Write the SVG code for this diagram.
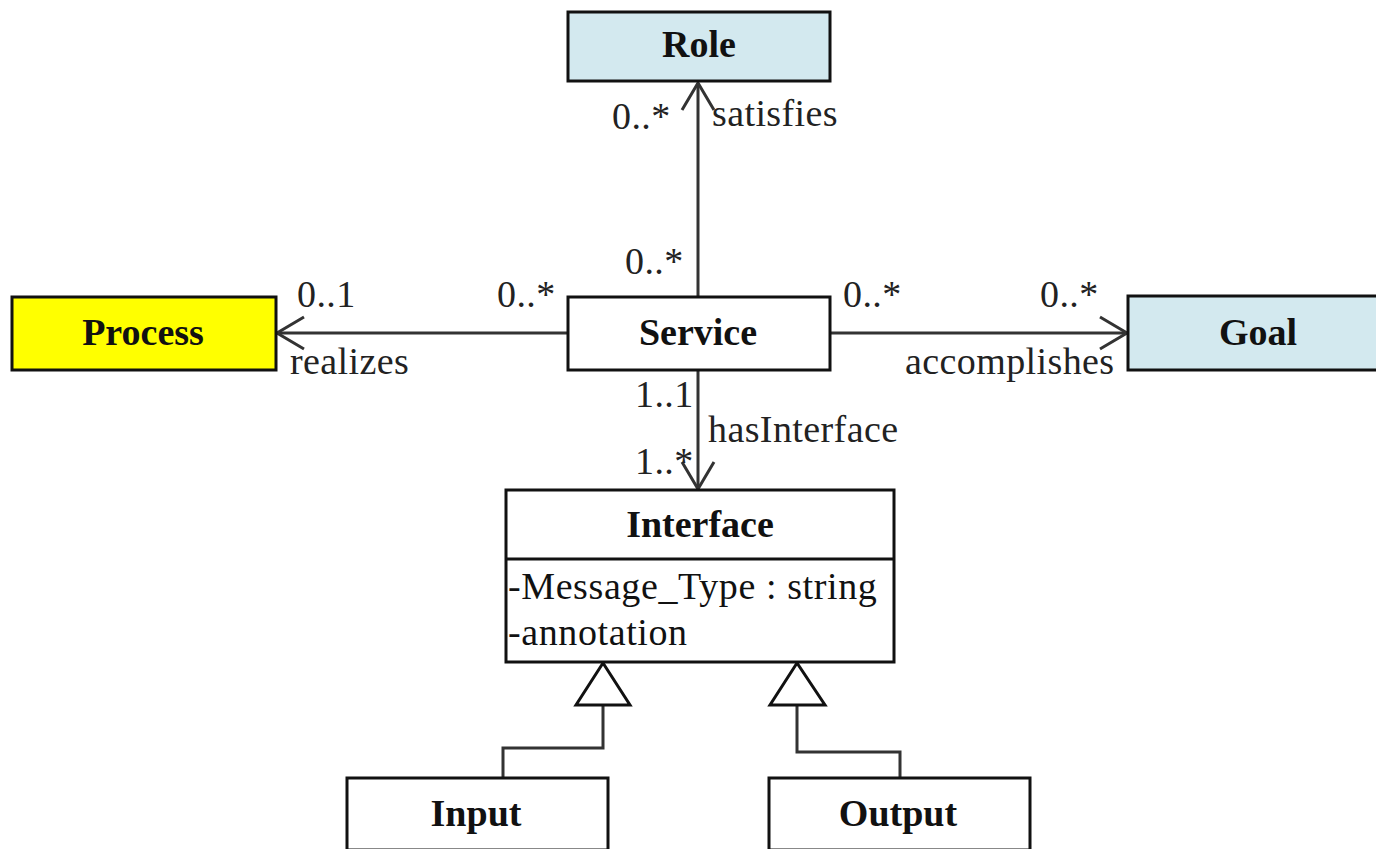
<svg xmlns="http://www.w3.org/2000/svg" width="1376" height="849" viewBox="0 0 1376 849">
<style>
.box{stroke:#111;stroke-width:3}
.plain{fill:#fff}
.blue{fill:#d3e9ef}
.yellow{fill:#ffff00}
.title{font-family:"Liberation Serif",serif;font-weight:bold;font-size:38px;fill:#111;text-anchor:middle}
.lbl{font-family:"Liberation Serif",serif;font-size:38px;fill:#222;letter-spacing:0.4px}
.attr{font-family:"Liberation Serif",serif;font-size:38px;fill:#111;letter-spacing:0.6px}
.conn{stroke:#333;stroke-width:3;fill:none}
.gen{stroke:#111;stroke-width:3;fill:#fff}
</style>
<defs>
<marker id="open" markerUnits="userSpaceOnUse" markerWidth="40" markerHeight="40" viewBox="-32 -20 36 40" refX="0" refY="0" orient="auto">
<path d="M -27 -16 L 0 0 L -27 16" fill="none" stroke="#333" stroke-width="3"/>
</marker>
</defs>
<g id="connectors">
<line class="conn" x1="698" y1="297" x2="698" y2="83" marker-end="url(#open)"/>
<line class="conn" x1="568" y1="333" x2="277" y2="333" marker-end="url(#open)"/>
<line class="conn" x1="830" y1="333" x2="1127" y2="333" marker-end="url(#open)"/>
<line class="conn" x1="698" y1="370" x2="698" y2="489" marker-end="url(#open)"/>
<polyline class="conn" points="503,778 503,748 603,748 603,705"/>
<polygon class="gen" points="603,663 576,705 630,705"/>
<polyline class="conn" points="900,778 900,752 797,752 797,705"/>
<polygon class="gen" points="797,663 770,705 825,705"/>
<text class="lbl" x="612" y="129">0..*</text>
<text class="lbl" x="712" y="126">satisfies</text>
<text class="lbl" x="625" y="274">0..*</text>
<text class="lbl" x="297" y="307">0..1</text>
<text class="lbl" x="497" y="307">0..*</text>
<text class="lbl" x="290" y="374">realizes</text>
<text class="lbl" x="843" y="307">0..*</text>
<text class="lbl" x="1040" y="307">0..*</text>
<text class="lbl" x="905" y="374">accomplishes</text>
<text class="lbl" x="635" y="407">1..1</text>
<text class="lbl" x="708" y="442">hasInterface</text>
<text class="lbl" x="635" y="474">1..*</text>
</g>
<g id="role">
<rect class="box blue" x="568" y="12" width="262" height="69"/>
<text class="title" x="699" y="57">Role</text>
</g>
<g id="process">
<rect class="box yellow" x="12" y="297" width="264" height="73"/>
<text class="title" x="143" y="345">Process</text>
</g>
<g id="service">
<rect class="box plain" x="568" y="297" width="262" height="73"/>
<text class="title" x="698" y="345">Service</text>
</g>
<g id="goal">
<rect class="box blue" x="1128" y="296" width="260" height="74"/>
<text class="title" x="1258" y="345">Goal</text>
</g>
<g id="interface">
<rect class="box plain" x="506" y="490" width="388" height="172"/>
<line class="box" x1="506" y1="559" x2="894" y2="559"/>
<text class="title" x="700" y="537">Interface</text>
<text class="attr" x="508" y="599">-Message_Type : string</text>
<text class="attr" x="508" y="645">-annotation</text>
</g>
<g id="input">
<rect class="box plain" x="347" y="778" width="261" height="72"/>
<text class="title" x="476" y="826">Input</text>
</g>
<g id="output">
<rect class="box plain" x="769" y="778" width="261" height="72"/>
<text class="title" x="898" y="826">Output</text>
</g>
</svg>
